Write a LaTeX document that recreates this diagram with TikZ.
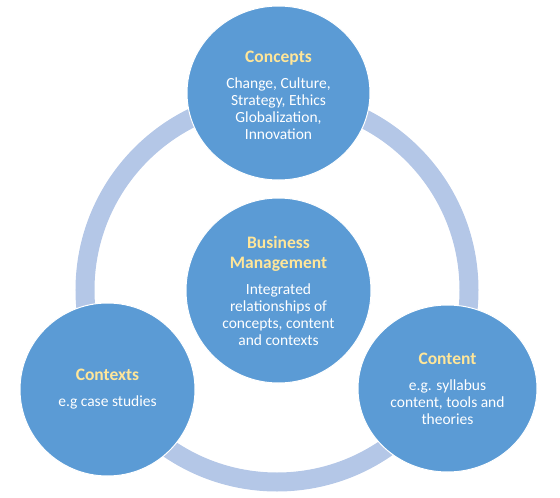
\documentclass[tikz,border=0pt]{standalone}
\usepackage{fontspec}
\setmainfont{Carlito}
\usetikzlibrary{shapes.geometric}
\definecolor{bubblefill}{HTML}{5B9BD5}
\definecolor{ringcol}{HTML}{B4C7E7}
\definecolor{titlecol}{HTML}{FFE699}
\newcommand\bubtitle[1]{{\fontsize{17.5}{20}\selectfont\bfseries\color{titlecol}#1}}
\tikzset{
  bubble/.style={ellipse,draw=white,line width=1pt,fill=bubblefill,inner sep=0pt},
  bubtext/.style={align=center,text=white,font=\fontsize{15.5}{17}\selectfont},
  ring/.style={draw=ringcol,line width=19pt}
}
\begin{document}
\begin{tikzpicture}[x=1pt,y=-1pt]
  \useasboundingbox (0,0) rectangle (560,498);
  \coordinate (hub) at (277,290);
  \draw[ring] (hub) circle (192pt);
  % four bubbles
  \node[bubble,minimum width=183pt,minimum height=174pt] (concepts) at (278.5,93) {};
  \node[bubble,minimum width=185pt,minimum height=185pt] (business) at (278.5,290.5) {};
  \node[bubble,minimum width=175pt,minimum height=173pt] (contexts) at (107.5,389.5) {};
  \node[bubble,minimum width=179pt,minimum height=167pt] (content) at (447.5,388.5) {};
  % texts
  \node[bubtext] (conceptstext) at ([yshift=-2pt]concepts.center)
    {\bubtitle{Concepts}\\[9pt] Change, Culture,\\ Strategy, Ethics\\ Globalization,\\ Innovation};
  \node[bubtext] (businesstext) at (business.center)
    {\bubtitle{Business}\\[3pt]\bubtitle{Management}\\[9pt] Integrated\\ relationships of\\ concepts, content\\ and contexts};
  \node[bubtext] (contextstext) at (contexts.center)
    {\bubtitle{Contexts}\\[9pt] e.g case studies};
  \node[bubtext] (contenttext) at (content.center)
    {\bubtitle{Content}\\[9pt] e.g. syllabus\\ content, tools and\\ theories};
\end{tikzpicture}
\end{document}
